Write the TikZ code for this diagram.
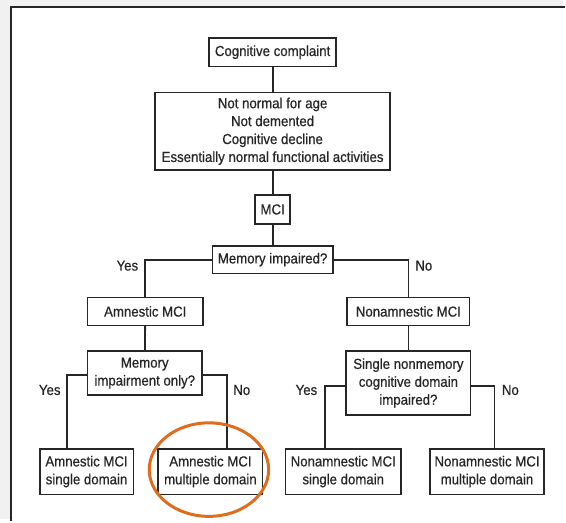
\documentclass[tikz,border=0pt]{standalone}
\usepackage{fontspec}
\setmainfont{Liberation Sans}[FakeStretch=0.91, FakeBold=0.6]
\definecolor{ink}{HTML}{262626}
\definecolor{pagegray}{HTML}{F1F1F1}
\definecolor{ringorange}{HTML}{DE6E1E}
\tikzset{
  box/.style={draw=ink, line width=1.6pt, fill=white, inner sep=0pt,
    align=center, text=ink, font=\fontsize{14.6}{18}\selectfont},
  link/.style={draw=ink, line width=1.8pt},
  answer/.style={text=ink, font=\fontsize{14.6}{18}\selectfont},
  ring/.style={draw=ringorange, line width=3pt},
}
\begin{document}
\begin{tikzpicture}[x=1pt,y=-1pt]
% page and frame
\fill[pagegray] (0,0) rectangle (566,522);
\fill[white] (11,7) rectangle (566,522);
\draw[ink, line width=1.8pt] (11,524) -- (11,7) -- (568,7);
\useasboundingbox (0,0) rectangle (566,522);

% decision tree
\node[box, minimum width=128pt, minimum height=29pt] (cc) at (274,52.5) {Cognitive complaint};
\node[box, minimum width=236pt, minimum height=78pt] (crit) at (274,132)
  {Not normal for age\\Not demented\\Cognitive decline\\Essentially normal functional activities};
\node[box, minimum width=35pt, minimum height=29pt] (mci) at (274,210.5) {MCI};
\node[box, minimum width=121pt, minimum height=28pt] (mem) at (274,261) {Memory impaired?};

\node[box, minimum width=116pt, minimum height=28pt] (amn) at (146,313) {Amnestic MCI};
\node[box, minimum width=123pt, minimum height=28pt] (non) at (410.5,313) {Nonamnestic MCI};

\node[box, minimum width=115pt, minimum height=44pt] (only) at (145.5,375) {Memory\\impairment only?};
\node[box, minimum width=125pt, minimum height=64pt] (single) at (410.5,385)
  {Single nonmemory\\cognitive domain\\impaired?};

\node[box, minimum width=94pt, minimum height=46pt] (asd) at (87,474) {Amnestic MCI\\single domain};
\node[box, minimum width=105pt, minimum height=46pt] (amd) at (211.5,474) {Amnestic MCI\\multiple domain};
\node[box, minimum width=116pt, minimum height=46pt] (nsd) at (345,474) {Nonamnestic MCI\\single domain};
\node[box, minimum width=115pt, minimum height=46pt] (nmd) at (489.5,474) {Nonamnestic MCI\\multiple domain};

% connectors
\draw[link] (cc) -- (crit);
\draw[link] (crit) -- (mci);
\draw[link] (mci) -- (mem);
\draw[link] (mem.west) -| (amn.north);
\draw[link] (mem.east) -| (non.north);
\draw[link] (amn) -- (only);
\draw[link] (non) -- (single);
\draw[link] ([yshift=-2pt]only.west) -| ([xshift=-20pt]asd.north);
\draw[link] ([yshift=-2pt]only.east) -| ([xshift=16.5pt]amd.north);
\draw[link] ([yshift=-3pt]single.west) -| ([xshift=-18pt]nsd.north);
\draw[link] ([yshift=-3pt]single.east) -| ([xshift=7.5pt]nmd.north);

% branch answers
\node[answer] (y1) at (128,267) {Yes};
\node[answer] (n1) at (426,267) {No};
\node[answer] (y2) at (50,392) {Yes};
\node[answer] (n2) at (243,392) {No};
\node[answer] (y3) at (308,392) {Yes};
\node[answer] (n3) at (513,392) {No};

% highlight ring
\draw[ring] (210,472) ellipse [x radius=60pt, y radius=47pt];
\end{tikzpicture}
\end{document}
